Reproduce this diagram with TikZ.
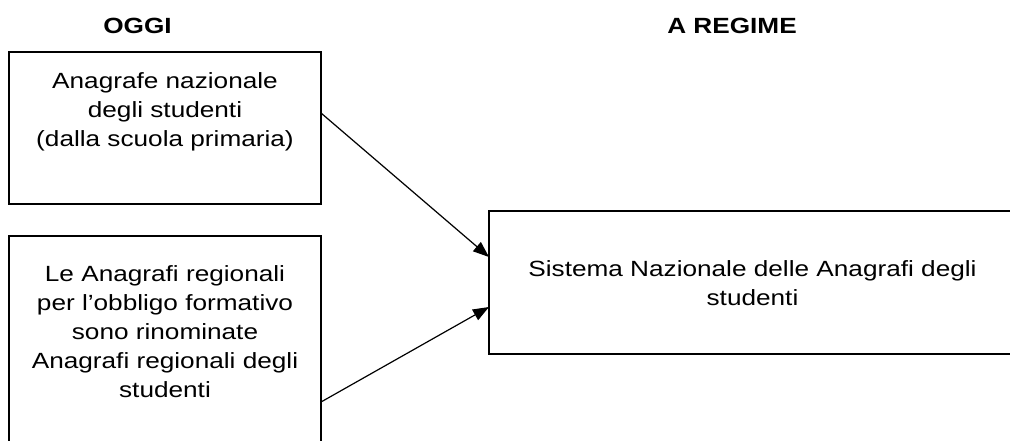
\documentclass[tikz,border=0pt]{standalone}
\usepackage{fontspec}
\setmainfont{Liberation Sans}[FakeStretch=1.19]
\usetikzlibrary{arrows.meta}
\tikzset{
  box/.style={draw=black, line width=1.4pt, rectangle, anchor=north west, inner sep=0pt, outer sep=0pt},
  txt/.style={anchor=north, align=center, inner sep=0pt, font=\fontsize{22}{29}\selectfont},
  head/.style={anchor=base, inner sep=0pt, font=\fontsize{22}{29}\selectfont\bfseries},
  arr/.style={line width=1.2pt, -{Triangle[length=16pt,width=12pt]}}
}
\begin{document}
\begin{tikzpicture}[x=1pt,y=-1pt]
\clip (0,0) rectangle (1010,440);
\fill[white] (0,0) rectangle (1010,440);
\node[head] (h1) at (137.5,33.3) {OGGI};
\node[head] (h2) at (732,33.3) {A REGIME};
\node[box, minimum width=312pt, minimum height=152pt] (b1) at (9,52) {};
\node[box, minimum width=312pt, minimum height=214pt] (b2) at (9,236) {};
\node[box, minimum width=531pt, minimum height=143pt] (b3) at (489,211) {};
\node[txt] (t1) at (165,68) {\strut Anagrafe nazionale\\degli studenti\\(dalla scuola primaria)};
\node[txt] (t2) at (165,260.7) {\strut Le Anagrafi regionali\\per l’obbligo formativo\\sono rinominate\\Anagrafi regionali degli\\studenti};
\node[txt] (t3) at (752.5,255.7) {\strut Sistema Nazionale delle Anagrafi degli\\studenti};
\coordinate (s1) at (b1.east |- 0,113);
\coordinate (e1) at (b3.west |- 0,257);
\coordinate (s2) at (b2.east |- 0,402);
\coordinate (e2) at (b3.west |- 0,307);
\draw[arr] (s1) -- (e1);
\draw[arr] (s2) -- (e2);
\end{tikzpicture}
\end{document}
